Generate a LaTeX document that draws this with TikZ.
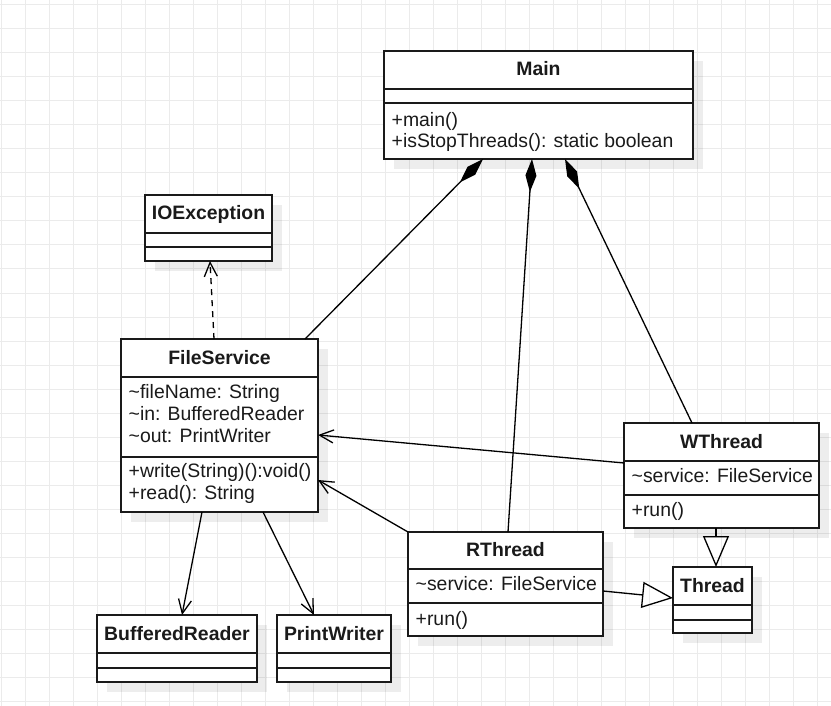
\documentclass[tikz,border=0pt]{standalone}
\usepackage{fontspec}
\setmainfont{Liberation Sans}
\usepackage{tikz}
\usetikzlibrary{arrows.meta}
\usetikzlibrary{shadows}
\definecolor{gridgray}{HTML}{EBEBEB}
\definecolor{umlline}{HTML}{1A1A1A}
\newcommand{\umlfont}{\fontsize{19.4}{21.8}\selectfont}
\tikzstyle{gridline}=[draw=gridgray, line width=1pt]
\tikzstyle{umlbox}=[draw=umlline, fill=white, line width=1.8pt, inner sep=0, outer sep=0,
                    % Soft shadow down and to the right.
                    drop shadow={shadow xshift=10pt, shadow yshift=-10pt, fill=black, opacity=0.07}]
\tikzstyle{umlsep}=[draw=umlline, line width=1.8pt]
\tikzstyle{umltitle}=[inner sep=0, anchor=base, font=\umlfont\bfseries, text=umlline]
\tikzstyle{umlmember}=[inner sep=0, anchor=base west, font=\umlfont, text=umlline]
\tikzstyle{umllink}=[draw=black, line width=1.3pt]
\tikzstyle{assoc}=[umllink, -{Straight Barb[length=14pt, width=13pt]}]
\tikzstyle{depend}=[assoc, dash pattern=on 6pt off 5pt]
\tikzstyle{compose}=[umllink, {Diamond[length=33pt, width=11pt]}-]
\tikzstyle{inherit}=[umllink, -{Triangle[open, length=31pt, width=26pt]}]
\tikzstyle{umldiagram}=[x=1pt, y=-1pt]
% class box: name, left, top, right, bottom, first rule, second rule, title
\newcommand{\umlclass}[8]{%
  \node[umlbox, minimum width={#4-#2}, minimum height={#5-#3}] (#1) at ({(#2+#4)/2}, {(#3+#5)/2}) {};
  \draw[umlsep] (#1.west |- 0,#6) -- (#1.east |- 0,#6);
  \draw[umlsep] (#1.west |- 0,#7) -- (#1.east |- 0,#7);
  \node[umltitle] (#1-title) at ({(#2+#4)/2}, {(#3+#6)/2+6}) {#8};
}

\begin{document}
\begin{tikzpicture}[umldiagram]
    \useasboundingbox (0,0) rectangle (831,706);
    \foreach \gx in {1,25,...,817} \draw[gridline] (\gx,0) -- (\gx,706);
    \foreach \gy in {5,29,...,701} \draw[gridline] (0,\gy) -- (831,\gy);

    \umlclass{Main}{384}{51}{693}{159}{89}{103}{Main}
    \node[umlmember] (Main-m1) at (391.5,127) {+main()};
    \node[umlmember] (Main-m2) at (391.5,148) {+isStopThreads(): static boolean};

    \umlclass{IOException}{145}{195}{272}{261}{233}{247}{IOException}

    \umlclass{FileService}{121}{339}{318}{512}{377}{457}{FileService}
    \node[umlmember] (FileService-a1) at (128.5,398) {\textasciitilde fileName: String};
    \node[umlmember] (FileService-a2) at (128.5,420) {\textasciitilde in: BufferedReader};
    \node[umlmember] (FileService-a3) at (128.5,442) {\textasciitilde out: PrintWriter};
    \node[umlmember] (FileService-m1) at (128.5,477) {+write(String)():void()};
    \node[umlmember] (FileService-m2) at (128.5,499) {+read(): String};

    \umlclass{WThread}{624}{423}{819}{528}{461}{495}{WThread}
    \node[umlmember] (WThread-a1) at (631.5,482.5) {\textasciitilde service: FileService};
    \node[umlmember] (WThread-m1) at (631.5,516.5) {+run()};

    \umlclass{RThread}{408}{532}{603}{636}{569}{603}{RThread}
    \node[umlmember] (RThread-a1) at (415.5,590) {\textasciitilde service: FileService};
    \node[umlmember] (RThread-m1) at (415.5,625) {+run()};

    \umlclass{Thread}{673}{567}{752}{633}{605}{620}{Thread}
    \umlclass{BufferedReader}{97}{615}{257}{682}{653}{668}{BufferedReader}
    \umlclass{PrintWriter}{277}{615}{391}{682}{653}{668}{PrintWriter}

    \draw[compose] (483,0 |- Main.south) -- (305,0 |- FileService.north);
    \draw[compose] (532,0 |- Main.south) -- (508,0 |- RThread.north);
    \draw[compose] (565,0 |- Main.south) -- (692,0 |- WThread.north);
    \draw[depend] (214,0 |- FileService.north) -- (210,0 |- IOException.south);
    \draw[assoc] (WThread.west |- 0,463) -- (FileService.east |- 0,435);
    \draw[assoc] (RThread.north west) -- (FileService.east |- 0,480);
    \draw[assoc] (202,0 |- FileService.south) -- (182,0 |- BufferedReader.north);
    \draw[assoc] (263,0 |- FileService.south) -- (314,0 |- PrintWriter.north);
    \draw[inherit] (RThread.east |- 0,591) -- (Thread.west |- 0,598);
    \draw[inherit] (716,0 |- WThread.south) -- (716,0 |- Thread.north);
\end{tikzpicture}
\end{document}
